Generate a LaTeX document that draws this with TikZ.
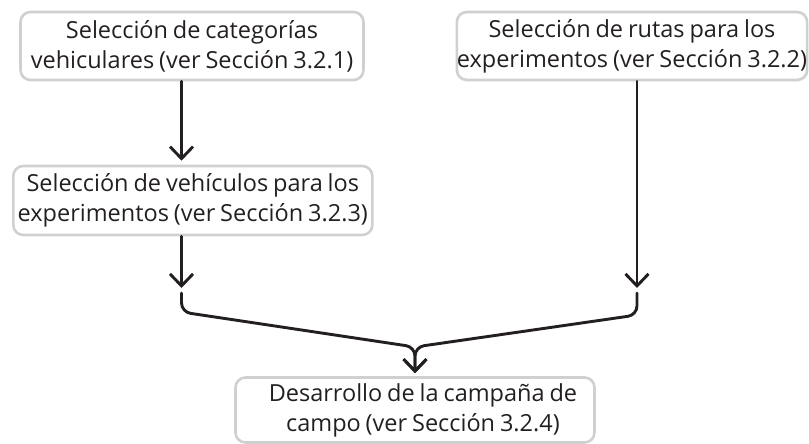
\documentclass[tikz,border=0pt]{standalone}
\usepackage{fontspec}
\setmainfont{Open Sans}[WordSpace=0.8]
\usetikzlibrary{arrows.meta}
\definecolor{ink}{HTML}{231F20}
\definecolor{boxgray}{HTML}{D0D0D0}
\tikzset{
  box/.style={draw=boxgray, line width=2.6pt, rounded corners=10pt, align=center,
    text=ink, inner sep=0pt, font=\fontsize{23.5}{30}\selectfont},
  conn/.style={draw=ink, line width=2.9pt, line cap=round, line join=round},
  arr/.style={conn, -{Straight Barb[length=12pt,width=23pt,line width=2.9pt]}},
}
\begin{document}
\begin{tikzpicture}[x=1pt,y=-1pt]
\useasboundingbox (0,0) rectangle (809,444);
\node[box, minimum width=343pt, minimum height=68pt] (b1) at (192,46) {Selección de categorías\\vehiculares (ver Sección 3.2.1)};
\node[box, minimum width=350pt, minimum height=68pt] (b2) at (632,46) {Selección de rutas para los\\experimentos (ver Sección 3.2.2)};
\node[box, minimum width=359pt, minimum height=69pt] (b3) at (192.8,200.5) {Selección de vehículos para los\\experimentos (ver Sección 3.2.3)};
\node[box, minimum width=359pt, minimum height=65pt] (b4) at (415,410) {\hspace*{16pt}Desarrollo de la campaña de\\\hspace*{16pt}campo (ver Sección 3.2.4)};
\coordinate (xl) at (181.5,0);
\coordinate (xr) at (637,0);
\coordinate (xm) at (415,0);
\coordinate (tl) at (181.5,288);
\coordinate (tr) at (637,288);
\coordinate (sl) at (181.5,293);
\coordinate (sr) at (637,293);
\coordinate (cl) at (181.5,312);
\coordinate (cr) at (637,315);
\coordinate (m) at (415,347);
\draw[arr, shorten >=4pt] (b1.south -| xl) -- (b3.north -| xl);
\draw[arr] (b3.south -| xl) -- (tl);
\draw[arr] (b2.south -| xr) -- (tr);
\draw[arr, rounded corners=9pt, shorten >=3pt] (sl) -- (cl) -- (m) -- (b4.north -| xm);
\draw[arr, rounded corners=9pt, shorten >=3pt] (sr) -- (cr) -- (m) -- (b4.north -| xm);
\end{tikzpicture}
\end{document}
